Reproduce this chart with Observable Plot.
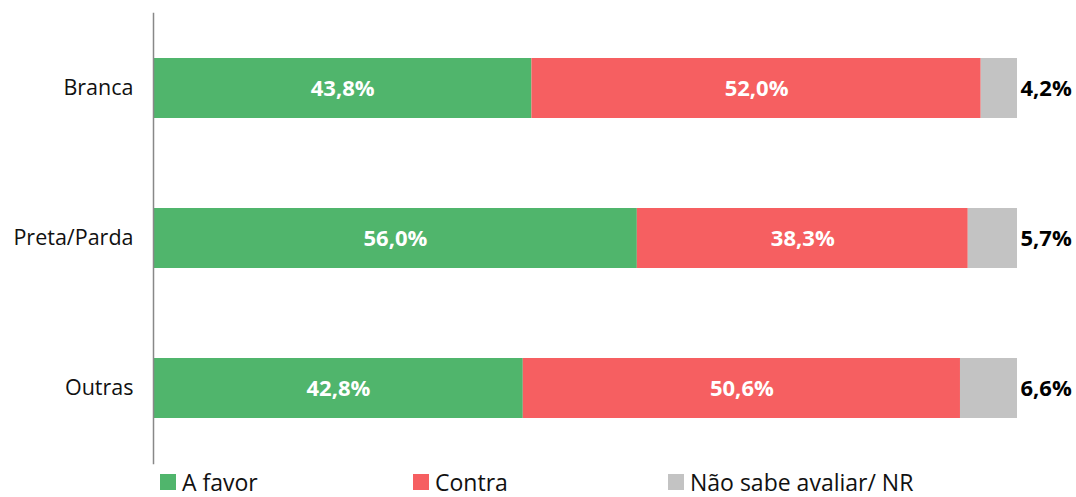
<!DOCTYPE html>
<html>
<head>
<meta charset="utf-8">
<script src="https://cdn.jsdelivr.net/npm/d3@7"></script>
<script src="https://cdn.jsdelivr.net/npm/@observablehq/plot@0.6"></script>
<style>
  html, body { margin: 0; padding: 0; background: #fff; }
  #chart { width: 1076px; font-family: "Open Sans", "Noto Sans", sans-serif; }
  .legend { position: relative; height: 27px; font-family: "Open Sans", sans-serif; font-size: 23px; color: #111; }
  .legend .item { position: absolute; top: -4px; display: flex; align-items: center; }
  .legend .sw { width: 16px; height: 16px; margin-right: 6px; }
</style>
</head>
<body>
<div id="chart"></div>
<script>
const categories = ["Branca", "Preta/Parda", "Outras"];
const series = ["A favor", "Contra", "Não sabe avaliar/ NR"];
const colors = ["#50B56C", "#F65F61", "#C3C3C3"];
const favor = [43.8, 56.0, 42.8];
const contra = [52.0, 38.3, 50.6];
const nr = [4.2, 5.7, 6.6];

const fmt = v => v.toFixed(1).replace(".", ",") + "%";

const rows = [];
categories.forEach((c, i) => {
  const vals = [favor[i], contra[i], nr[i]];
  let acc = 0;
  vals.forEach((v, j) => {
    rows.push({cat: c, series: series[j], value: v, x1: acc, x2: acc + v, mid: acc + v / 2, end: acc + v, idx: j});
    acc += v;
  });
});

const W = 1076, H = 470;
const chart = Plot.plot({
  width: W,
  height: H,
  marginLeft: 153,
  marginRight: 59,
  marginTop: 13,
  marginBottom: 7,
  style: {fontFamily: "'Open Sans', sans-serif", fontSize: "20px", color: "#111", background: "#fff"},
  x: {domain: [0, 100], axis: null},
  y: {domain: categories, paddingInner: 0.6, paddingOuter: 0.3, label: null, axis: null},
  color: {domain: series, range: colors},
  marks: [
    Plot.barX(rows, {y: "cat", x1: "x1", x2: "x2", fill: "series"}),
    Plot.axisY({tickSize: 0, tickPadding: 20, fontSize: 21.5, label: null, fill: "#111"}),
    Plot.text(rows.filter(d => d.idx < 2), {y: "cat", x: "mid", text: d => fmt(d.value), fill: "white", fontWeight: "bold", fontSize: 22}),
    Plot.text(rows.filter(d => d.idx === 2), {y: "cat", x: "end", text: d => fmt(d.value), fill: "#000", fontWeight: "bold", fontSize: 22, textAnchor: "start", dx: 3}),
    Plot.frame({anchor: "left", stroke: "#888", strokeWidth: 1.5})
  ]
});
document.getElementById("chart").appendChild(chart);

const legend = document.createElement("div");
legend.className = "legend";
const lx = [160, 413, 668];
series.forEach((s, i) => {
  const it = document.createElement("div");
  it.className = "item";
  it.style.left = lx[i] + "px";
  const sw = document.createElement("span");
  sw.className = "sw";
  sw.style.background = colors[i];
  const t = document.createElement("span");
  t.textContent = s;
  it.appendChild(sw);
  it.appendChild(t);
  legend.appendChild(it);
});
document.getElementById("chart").appendChild(legend);
</script>
</body>
</html>
